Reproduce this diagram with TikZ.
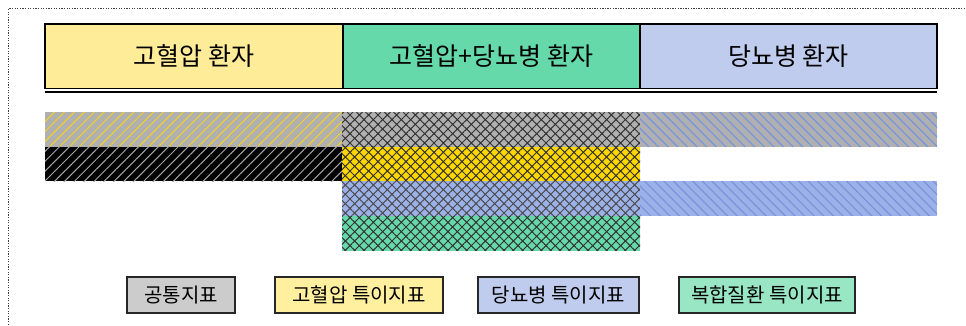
\documentclass[tikz,border=0pt]{standalone}
\usepackage{fontspec}
\setmainfont{Noto Sans CJK KR}
\usetikzlibrary{patterns.meta}
\definecolor{hdryel}{HTML}{FFEC99}
\definecolor{hdrgrn}{HTML}{66D9AA}
\definecolor{hdrblu}{HTML}{C0CCEE}
\definecolor{bargray}{HTML}{B0B0B0}
\definecolor{baryel}{HTML}{FFD700}
\definecolor{barblu}{HTML}{9CB1E8}
\definecolor{bargrn}{HTML}{66D9AA}
\definecolor{hatchyel}{HTML}{F2D22A}
\definecolor{hatchblu}{HTML}{7B96DE}
\definecolor{leggray}{HTML}{CCCCCC}
\definecolor{legyel}{HTML}{FFF0A0}
\definecolor{legblu}{HTML}{C0CCEE}
\definecolor{leggrn}{HTML}{99E6C4}
\tikzset{
  hdr/.style={draw=black, line width=1.3pt, inner sep=0pt, outer sep=0pt, anchor=north west,
    minimum height=64.5pt, font=\fontsize{25}{30}\selectfont},
  bar/.style={inner sep=0pt, outer sep=0pt, anchor=north west, minimum height=34.5pt},
  nelines/.style={postaction={pattern={Lines[angle=45,distance=7pt,line width=1pt]}, pattern color=#1}},
  nwlines/.style={postaction={pattern={Lines[angle=-45,distance=6.8pt,line width=1.3pt]}, pattern color=#1}},
  xhatch/.style={postaction={pattern={Hatch[angle=45,distance=6.6pt,line width=1pt]}, pattern color=#1}},
  leg/.style={draw=black!85, line width=1.2pt, inner sep=0pt, outer sep=0pt,
    minimum height=36pt, font=\fontsize{20}{24}\selectfont},
}
\begin{document}
\begin{tikzpicture}[x=1pt,y=-1pt]
\useasboundingbox (0,0) rectangle (966,325);
% dotted frame
\coordinate (fr1) at (8.5,330);
\coordinate (fr2) at (8.5,8.5);
\coordinate (fr3) at (964,8.5);
\draw[black!75, line width=1.3pt, dash pattern=on 1.3pt off 1.3pt] (fr1) -- (fr2) -- (fr3);
% headers
\node[hdr, fill=hdryel, minimum width=298pt] (h1) at (45,24) {고혈압 환자};
\node[hdr, fill=hdrgrn, minimum width=297pt] (h2) at (343,24) {고혈압+당뇨병 환자};
\node[hdr, fill=hdrblu, minimum width=297pt] (h3) at (640,24) {당뇨병 환자};
\coordinate (d1) at ([yshift=-3.5pt]h1.south west);
\coordinate (d2) at ([yshift=-3.5pt]h3.south east);
\draw[line width=1.3pt] (d1) -- (d2);
% bars
\node[bar, minimum width=297pt, fill=bargray, nelines=hatchyel] (a1) at (45,112) {};
\node[bar, minimum width=298pt, fill=bargray, xhatch=black!80] (b1) at (342,112) {};
\node[bar, minimum width=297pt, fill=bargray, nwlines=hatchblu] (c1) at (640,112) {};
\node[bar, minimum width=297pt, fill=black, nelines=black!35] (a2) at (45,146.7) {};
\node[bar, minimum width=298pt, fill=baryel, xhatch=black!80] (b2) at (342,146.7) {};
\node[bar, minimum width=298pt, fill=barblu, xhatch=black!70] (b3) at (342,181.4) {};
\node[bar, minimum width=297pt, fill=barblu, nwlines=hatchblu] (c3) at (640,181.4) {};
\node[bar, minimum width=298pt, fill=bargrn, xhatch=black!80] (b4) at (342,216) {};
% legend
\node[leg, fill=leggray, minimum width=108pt] (l1) at (181,295) {공통지표};
\node[leg, fill=legyel, minimum width=168pt] (l2) at (359,295) {고혈압 특이지표};
\node[leg, fill=legblu, minimum width=161pt] (l3) at (558.5,295) {당뇨병 특이지표};
\node[leg, fill=leggrn, minimum width=176pt] (l4) at (767,295) {복합질환 특이지표};
\end{tikzpicture}
\end{document}
